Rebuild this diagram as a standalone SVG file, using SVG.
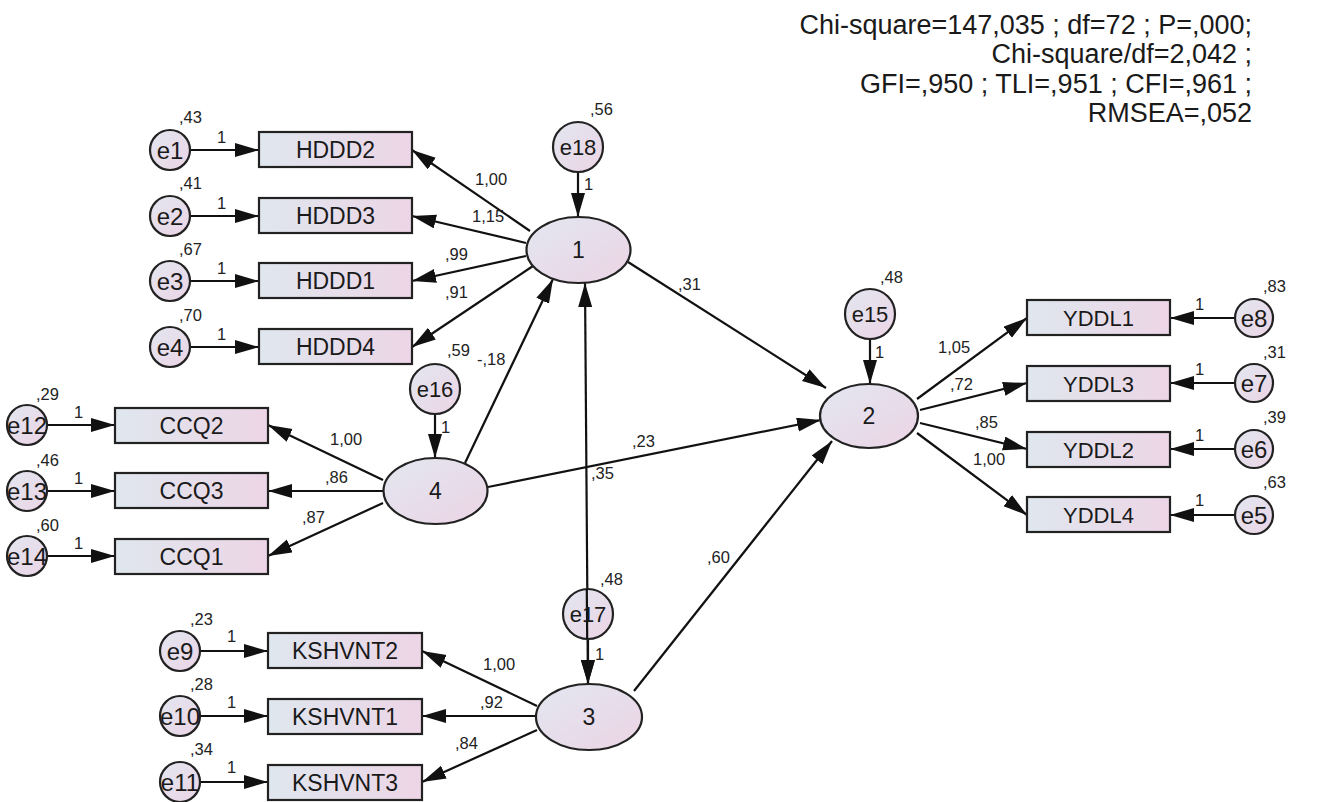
<svg xmlns="http://www.w3.org/2000/svg" width="1335" height="802" viewBox="0 0 1335 802">
<defs>
<linearGradient id="gb" x1="0" y1="0" x2="1" y2="0"><stop offset="0" stop-color="#dfe7ee"/><stop offset="1" stop-color="#edd5e6"/></linearGradient>
<linearGradient id="ge" x1="0" y1="0" x2="1" y2="1"><stop offset="0" stop-color="#e2e7f0"/><stop offset="1" stop-color="#ecd4e5"/></linearGradient>
<marker id="ah" markerUnits="userSpaceOnUse" markerWidth="26" markerHeight="15" refX="24" refY="7" orient="auto-start-reverse"><path d="M0,0 L24,7 L0,14 z" fill="#111"/></marker>
<style>
.box{fill:url(#gb);stroke:#222;stroke-width:2.2}
.lat{fill:url(#ge);stroke:#222;stroke-width:2.2}
.t{font-family:"Liberation Sans",Arial,sans-serif;font-size:23px;fill:#1a1a1a;text-anchor:middle}
.ty{font-family:"Liberation Sans",Arial,sans-serif;font-size:22px;fill:#1a1a1a;text-anchor:middle}
.te{font-family:"Liberation Sans",Arial,sans-serif;font-size:24px;fill:#1a1a1a;text-anchor:middle}
.tE{font-family:"Liberation Sans",Arial,sans-serif;font-size:22px;fill:#1a1a1a;text-anchor:middle}
.s{font-family:"Liberation Sans",Arial,sans-serif;font-size:16.5px;fill:#222}
.st{font-family:"Liberation Sans",Arial,sans-serif;font-size:27px;fill:#1a1a1a;text-anchor:end}
.c line{stroke:#111;stroke-width:2.2;marker-end:url(#ah)}
.c line.d{marker-start:url(#ah)}
</style>
</defs>
<rect width="1335" height="802" fill="#fff"/>
<g id="stats">
<text class="st" x="1252" y="34">Chi-square=147,035 ; df=72 ; P=,000;</text>
<text class="st" x="1252" y="63">Chi-square/df=2,042 ;</text>
<text class="st" x="1252" y="93">GFI=,950 ; TLI=,951 ; CFI=,961 ;</text>
<text class="st" x="1252" y="122">RMSEA=,052</text>
</g>
<g class="c" id="connectors">
<line x1="190" y1="150" x2="259" y2="150"/>
<line x1="190" y1="216" x2="259" y2="216"/>
<line x1="190" y1="281" x2="259" y2="281"/>
<line x1="190" y1="347" x2="259" y2="347"/>
<line x1="530" y1="231" x2="412" y2="150"/>
<line x1="526" y1="243" x2="412" y2="216"/>
<line x1="526" y1="256" x2="412" y2="281"/>
<line x1="533" y1="266" x2="412" y2="347"/>
<line x1="578" y1="172" x2="578" y2="217"/>
<line x1="628" y1="262" x2="826" y2="388"/>
<line x1="465" y1="463" x2="553" y2="279"/>
<line class="d" x1="585" y1="283" x2="588" y2="684"/>
<line x1="588" y1="639" x2="588" y2="684"/>
<line x1="488" y1="487" x2="821" y2="420"/>
<line x1="634" y1="691" x2="832" y2="441"/>
<line x1="435" y1="414" x2="435" y2="458"/>
<line x1="47" y1="425" x2="115" y2="425"/>
<line x1="47" y1="491" x2="115" y2="491"/>
<line x1="47" y1="556" x2="115" y2="556"/>
<line x1="383" y1="480" x2="268" y2="425"/>
<line x1="383" y1="491" x2="268" y2="491"/>
<line x1="383" y1="503" x2="268" y2="556"/>
<line x1="200" y1="651" x2="268" y2="651"/>
<line x1="200" y1="716" x2="268" y2="716"/>
<line x1="200" y1="782" x2="268" y2="782"/>
<line x1="537" y1="706" x2="422" y2="651"/>
<line x1="536" y1="716" x2="422" y2="716"/>
<line x1="537" y1="730" x2="422" y2="782"/>
<line x1="870" y1="339" x2="870" y2="384"/>
<line x1="917" y1="399" x2="1027" y2="318"/>
<line x1="920" y1="410" x2="1027" y2="383"/>
<line x1="920" y1="423" x2="1027" y2="449"/>
<line x1="917" y1="433" x2="1027" y2="515"/>
<line x1="1235" y1="318" x2="1170" y2="318"/>
<line x1="1235" y1="383" x2="1170" y2="383"/>
<line x1="1235" y1="449" x2="1170" y2="449"/>
<line x1="1235" y1="515" x2="1170" y2="515"/>
</g>
<g id="labels">
<text class="s" x="475" y="185">1,00</text>
<text class="s" x="472" y="222">1,15</text>
<text class="s" x="445" y="260">,99</text>
<text class="s" x="445" y="298">,91</text>
<text class="s" x="678" y="290">,31</text>
<text class="s" x="477" y="365">-,18</text>
<text class="s" x="591" y="479">,35</text>
<text class="s" x="632" y="447">,23</text>
<text class="s" x="707" y="563">,60</text>
<text class="s" x="330" y="445">1,00</text>
<text class="s" x="325" y="483">,86</text>
<text class="s" x="302" y="523">,87</text>
<text class="s" x="483" y="670">1,00</text>
<text class="s" x="480" y="708">,92</text>
<text class="s" x="455" y="749">,84</text>
<text class="s" x="938" y="353">1,05</text>
<text class="s" x="950" y="390">,72</text>
<text class="s" x="975" y="428">,85</text>
<text class="s" x="973" y="465">1,00</text>
</g>
<g id="HDDD2"><rect class="box" x="259" y="132" width="153" height="35"/><text class="t" x="335.5" y="158">HDDD2</text></g>
<g id="HDDD3"><rect class="box" x="259" y="198" width="153" height="35"/><text class="t" x="335.5" y="224">HDDD3</text></g>
<g id="HDDD1"><rect class="box" x="259" y="263" width="153" height="35"/><text class="t" x="335.5" y="289">HDDD1</text></g>
<g id="HDDD4"><rect class="box" x="259" y="329" width="153" height="35"/><text class="t" x="335.5" y="355">HDDD4</text></g>
<g id="CCQ2"><rect class="box" x="115" y="408" width="153" height="35"/><text class="t" x="191.5" y="434">CCQ2</text></g>
<g id="CCQ3"><rect class="box" x="115" y="473" width="153" height="35"/><text class="t" x="191.5" y="499">CCQ3</text></g>
<g id="CCQ1"><rect class="box" x="115" y="539" width="153" height="35"/><text class="t" x="191.5" y="565">CCQ1</text></g>
<g id="KSHVNT2"><rect class="box" x="268" y="633" width="154" height="35"/><text class="t" x="345" y="659">KSHVNT2</text></g>
<g id="KSHVNT1"><rect class="box" x="268" y="699" width="154" height="35"/><text class="t" x="345" y="725">KSHVNT1</text></g>
<g id="KSHVNT3"><rect class="box" x="268" y="765" width="154" height="35"/><text class="t" x="345" y="791">KSHVNT3</text></g>
<g id="YDDL1"><rect class="box" x="1027" y="300" width="143" height="35"/><text class="ty" x="1098.5" y="325.5">YDDL1</text></g>
<g id="YDDL3"><rect class="box" x="1027" y="366" width="143" height="35"/><text class="ty" x="1098.5" y="391.5">YDDL3</text></g>
<g id="YDDL2"><rect class="box" x="1027" y="432" width="143" height="35"/><text class="ty" x="1098.5" y="457.5">YDDL2</text></g>
<g id="YDDL4"><rect class="box" x="1027" y="497" width="143" height="35"/><text class="ty" x="1098.5" y="522.5">YDDL4</text></g>
<g id="n1"><ellipse class="lat" cx="578.5" cy="250" rx="52" ry="33"/><text class="t" x="578.5" y="258">1</text></g>
<g id="n4"><ellipse class="lat" cx="435.5" cy="491" rx="52" ry="33"/><text class="t" x="435.5" y="499">4</text></g>
<g id="n3"><ellipse class="lat" cx="589" cy="717" rx="53" ry="33"/><text class="t" x="589" y="725">3</text></g>
<g id="n2"><ellipse class="lat" cx="869" cy="416" rx="49" ry="32"/><text class="t" x="869" y="424">2</text></g>
<g id="e1"><circle class="lat" cx="170" cy="150" r="20"/><text class="te" x="170" y="158.5">e1</text><text class="s" x="179" y="123">,43</text><text class="s" x="217" y="143">1</text></g>
<g id="e2"><circle class="lat" cx="170" cy="216" r="20"/><text class="te" x="170" y="224.5">e2</text><text class="s" x="179" y="189">,41</text><text class="s" x="217" y="209">1</text></g>
<g id="e3"><circle class="lat" cx="170" cy="281" r="20"/><text class="te" x="170" y="289.5">e3</text><text class="s" x="179" y="255">,67</text><text class="s" x="217" y="274">1</text></g>
<g id="e4"><circle class="lat" cx="170" cy="347" r="20"/><text class="te" x="170" y="355.5">e4</text><text class="s" x="179" y="321">,70</text><text class="s" x="217" y="340">1</text></g>
<g id="e12"><circle class="lat" cx="27" cy="425" r="20"/><text class="te" x="27" y="433.5">e12</text><text class="s" x="36" y="400">,29</text><text class="s" x="74" y="418">1</text></g>
<g id="e13"><circle class="lat" cx="27" cy="491" r="20"/><text class="te" x="27" y="499.5">e13</text><text class="s" x="36" y="466">,46</text><text class="s" x="74" y="484">1</text></g>
<g id="e14"><circle class="lat" cx="27" cy="556" r="20"/><text class="te" x="27" y="564.5">e14</text><text class="s" x="36" y="531">,60</text><text class="s" x="74" y="549">1</text></g>
<g id="e9"><circle class="lat" cx="180" cy="651" r="20"/><text class="te" x="180" y="659.5">e9</text><text class="s" x="190" y="625">,23</text><text class="s" x="227" y="642">1</text></g>
<g id="e10"><circle class="lat" cx="180" cy="716" r="20"/><text class="te" x="180" y="724.5">e10</text><text class="s" x="190" y="690">,28</text><text class="s" x="227" y="708">1</text></g>
<g id="e11"><circle class="lat" cx="180" cy="782" r="20"/><text class="te" x="180" y="790.5">e11</text><text class="s" x="190" y="755">,34</text><text class="s" x="227" y="773">1</text></g>
<g id="e8"><circle class="lat" cx="1254" cy="318" r="19"/><text class="te" x="1254" y="326.5">e8</text><text class="s" x="1263" y="292">,83</text><text class="s" x="1195" y="310">1</text></g>
<g id="e7"><circle class="lat" cx="1254" cy="383" r="19"/><text class="te" x="1254" y="391.5">e7</text><text class="s" x="1263" y="358">,31</text><text class="s" x="1195" y="375">1</text></g>
<g id="e6"><circle class="lat" cx="1254" cy="449" r="19"/><text class="te" x="1254" y="457.5">e6</text><text class="s" x="1263" y="423">,39</text><text class="s" x="1195" y="441">1</text></g>
<g id="e5"><circle class="lat" cx="1254" cy="515" r="19"/><text class="te" x="1254" y="523.5">e5</text><text class="s" x="1263" y="488">,63</text><text class="s" x="1195" y="506">1</text></g>
<g id="e18"><circle class="lat" cx="578" cy="147" r="25"/><text class="tE" x="578" y="155">e18</text><text class="s" x="590" y="115">,56</text><text class="s" x="584" y="190">1</text></g>
<g id="e16"><circle class="lat" cx="435" cy="389" r="25"/><text class="tE" x="435" y="397">e16</text><text class="s" x="447" y="356">,59</text><text class="s" x="441" y="433">1</text></g>
<g id="e17"><circle class="lat" cx="588" cy="614" r="25"/><line x1="586.8" y1="589" x2="587.2" y2="639" stroke="#111" stroke-width="2.2"/><text class="tE" x="588" y="622">e17</text><text class="s" x="600" y="585">,48</text><text class="s" x="595" y="660">1</text></g>
<g id="e15"><circle class="lat" cx="870" cy="314" r="25"/><text class="tE" x="870" y="322">e15</text><text class="s" x="880" y="283">,48</text><text class="s" x="875" y="358">1</text></g>
</svg>
